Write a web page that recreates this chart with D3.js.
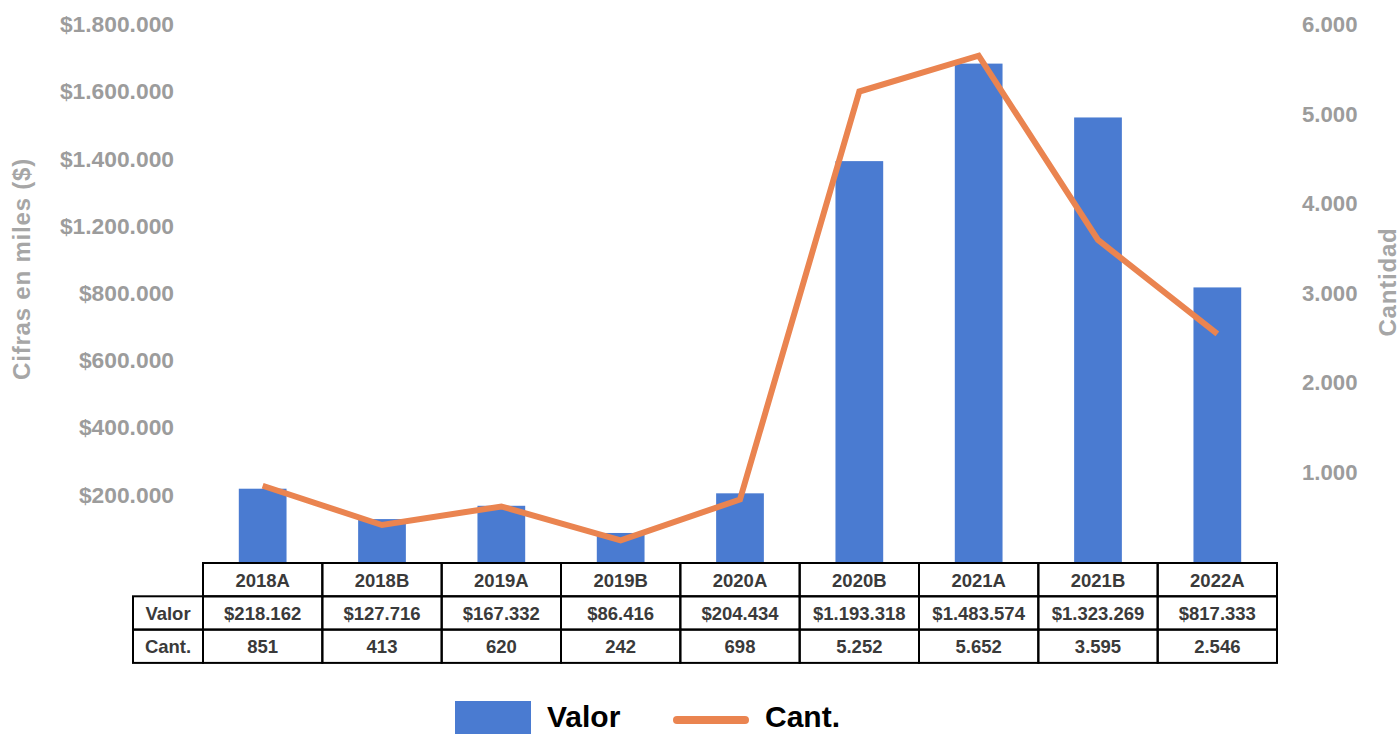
<!DOCTYPE html>
<html>
<head>
<meta charset="utf-8">
<script src="https://cdn.jsdelivr.net/npm/d3@7"></script>
<style>
  html, body { margin: 0; padding: 0; background: #fff; }
  svg { display: block; font-family: "Liberation Sans", Arial, sans-serif; font-weight: bold; }
</style>
</head>
<body>
<svg id="chart" width="1400" height="734"></svg>
<script>
'use strict'

// data
const periodos = ['2018A', '2018B', '2019A', '2019B', '2020A', '2020B', '2021A', '2021B', '2022A']
const valores = [218162, 127716, 167332, 86416, 204434, 1193318, 1483574, 1323269, 817333]
const cantidades = [851, 413, 620, 242, 698, 5252, 5652, 3595, 2546]

// left axis ticks as printed in the original (the 1.000.000 label is skipped there)
const leftTickValues = [200000, 400000, 600000, 800000, 1000000, 1200000, 1400000, 1600000]
const leftTickLabels = ['$200.000', '$400.000', '$600.000', '$800.000', '$1.200.000', '$1.400.000', '$1.600.000', '$1.800.000']
const rightTickValues = [1000, 2000, 3000, 4000, 5000, 6000]

const cfg = {
  left: 203, right: 1277,
  top: 24.5, bottom: 562,
  tableTop: 563, rowH: 33.3, labelColLeft: 133,
  barColor: '#4a7bd1',
  lineColor: '#ea8450',
  axisText: '#9c9c9c',
  titleText: '#a6a6a6',
  tableText: '#3a3a3a'
}

const es = d3.formatLocale({decimal: ',', thousands: '.', grouping: [3], currency: ['$', '']})
const fmtMoney = es.format('$,')
const fmtNum = es.format(',')

const svg = d3.select('#chart')

const x = d3.scaleBand().domain(periodos).range([cfg.left, cfg.right]).padding(0)
const yL = d3.scaleLinear().domain([0, 1600000]).range([cfg.bottom, cfg.top])
const yR = d3.scaleLinear().domain([0, 6000]).range([cfg.bottom, cfg.top])
const bw = x.bandwidth()

// bars
svg.append('g').attr('class', 'bars')
  .selectAll('rect').data(valores).enter().append('rect')
  .attr('x', (d, i) => x(periodos[i]) + bw * 0.3)
  .attr('width', bw * 0.4)
  .attr('y', d => yL(d))
  .attr('height', d => cfg.bottom - yL(d) + 1)
  .attr('fill', cfg.barColor)

// line
const line = d3.line()
  .x((d, i) => x(periodos[i]) + bw / 2)
  .y(d => yR(d))
svg.append('path').datum(cantidades)
  .attr('d', line)
  .attr('fill', 'none')
  .attr('stroke', cfg.lineColor)
  .attr('stroke-width', 6)

// axes
const axL = svg.append('g').attr('transform', 'translate(174,0)')
  .call(d3.axisLeft(yL).tickValues(leftTickValues).tickSize(0).tickPadding(0)
    .tickFormat((d, i) => leftTickLabels[i]))
axL.select('.domain').remove()
axL.selectAll('text').attr('fill', cfg.axisText)
  .style('font-size', '22.8px').style('font-family', 'inherit').style('font-weight', 'bold')

const axR = svg.append('g').attr('transform', 'translate(1302,0)')
  .call(d3.axisRight(yR).tickValues(rightTickValues).tickSize(0).tickPadding(0)
    .tickFormat(fmtNum))
axR.select('.domain').remove()
axR.selectAll('text').attr('fill', cfg.axisText)
  .style('font-size', '22.2px').style('font-family', 'inherit').style('font-weight', 'bold')

// axis titles
svg.append('text')
  .attr('transform', 'translate(30,269) rotate(-90)')
  .attr('text-anchor', 'middle')
  .attr('fill', cfg.titleText)
  .style('font-size', '24px').style('letter-spacing', '0.8px')
  .text('Cifras en miles ($)')
svg.append('text')
  .attr('transform', 'translate(1396,282) rotate(-90)')
  .attr('text-anchor', 'middle')
  .attr('fill', cfg.titleText)
  .style('font-size', '24px').style('letter-spacing', '0.8px')
  .text('Cantidad')

// data table
const table = svg.append('g').attr('class', 'table')
const rows = [
  {label: null, cells: periodos},
  {label: 'Valor', cells: valores.map(fmtMoney)},
  {label: 'Cant.', cells: cantidades.map(fmtNum)}
]
rows.forEach((r, ri) => {
  const y0 = cfg.tableTop + ri * cfg.rowH
  if (r.label) {
    table.append('rect')
      .attr('x', cfg.labelColLeft).attr('y', y0)
      .attr('width', cfg.left - cfg.labelColLeft).attr('height', cfg.rowH)
      .attr('fill', 'none').attr('stroke', '#000').attr('stroke-width', 2)
    table.append('text')
      .attr('x', (cfg.labelColLeft + cfg.left) / 2).attr('y', y0 + cfg.rowH / 2 + 7)
      .attr('text-anchor', 'middle').attr('fill', cfg.tableText)
      .style('font-size', '18.5px').text(r.label)
  }
  table.selectAll(null).data(r.cells).enter().append('rect')
    .attr('x', (d, i) => x(periodos[i])).attr('y', y0)
    .attr('width', bw).attr('height', cfg.rowH)
    .attr('fill', 'none').attr('stroke', '#000').attr('stroke-width', 2)
  table.selectAll(null).data(r.cells).enter().append('text')
    .attr('x', (d, i) => x(periodos[i]) + bw / 2).attr('y', y0 + cfg.rowH / 2 + 7)
    .attr('text-anchor', 'middle').attr('fill', cfg.tableText)
    .style('font-size', '18.5px').text(d => d)
})

// legend
const lg = svg.append('g').attr('class', 'legend')
lg.append('rect').attr('x', 455).attr('y', 701).attr('width', 76).attr('height', 40).attr('fill', cfg.barColor)
lg.append('text').attr('x', 547).attr('y', 727).attr('fill', '#000').style('font-size', '30px').text('Valor')
lg.append('line').attr('x1', 677).attr('x2', 745).attr('y1', 720).attr('y2', 720)
  .attr('stroke', cfg.lineColor).attr('stroke-width', 8).attr('stroke-linecap', 'round')
lg.append('text').attr('x', 765).attr('y', 727).attr('fill', '#000').style('font-size', '30px').text('Cant.')
</script>
</body>
</html>
